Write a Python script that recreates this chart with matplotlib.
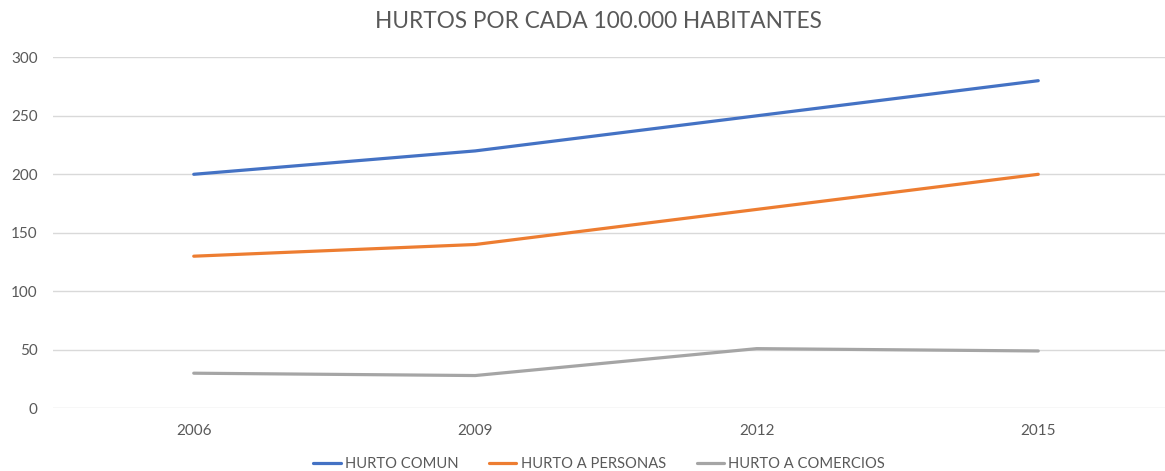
import matplotlib
matplotlib.use("Agg")
import matplotlib.pyplot as plt

years = ["2006", "2009", "2012", "2015"]
hurto_comun = [200, 220, 250, 280]
hurto_personas = [130, 140, 170, 200]
hurto_comercios = [30, 28, 51, 49]
series_names = ["HURTO COMUN", "HURTO A PERSONAS", "HURTO A COMERCIOS"]
colors = ["#4472C4", "#ED7D31", "#A5A5A5"]
title = "HURTOS POR CADA 100.000 HABITANTES"
yticks = [0, 50, 100, 150, 200, 250, 300]

plt.rcParams['font.family'] = ['Lato', 'DejaVu Sans']
W, H = 1165, 471
fig = plt.figure(figsize=(W / 100, H / 100), dpi=100)
ax = fig.add_axes([53 / W, 62.7 / H, 1126 / W, 351 / H])

x = list(range(len(years)))
for vals, name, c in zip([hurto_comun, hurto_personas, hurto_comercios], series_names, colors):
    ax.plot(x, vals, color=c, lw=2.3, label=name, solid_capstyle='round', solid_joinstyle='round')

ax.set_xlim(-0.5, len(years) - 0.5)
ax.set_ylim(0, 300)
ax.set_yticks(yticks)
ax.set_xticks(x)
ax.set_xticklabels(years)
ax.grid(axis='y', color='#D9D9D9', lw=1)
ax.set_axisbelow(True)
for s in ax.spines.values():
    s.set_visible(False)
ax.tick_params(axis='both', length=0, labelsize=11, labelcolor='#595959')
ax.tick_params(axis='y', pad=11)
ax.tick_params(axis='x', pad=11)

fig.text(598 / W, 1 - 22 / H, title, ha='center', va='center', fontsize=16.3, color='#595959')

fig.legend(loc='center', bbox_to_anchor=(599 / W, 1 - 464 / H), ncol=3, frameon=False,
           fontsize=10.6, labelcolor='#595959', handlelength=1.85, handletextpad=0.28,
           columnspacing=2.1, borderaxespad=0)

fig.savefig("out.png", dpi=100)
